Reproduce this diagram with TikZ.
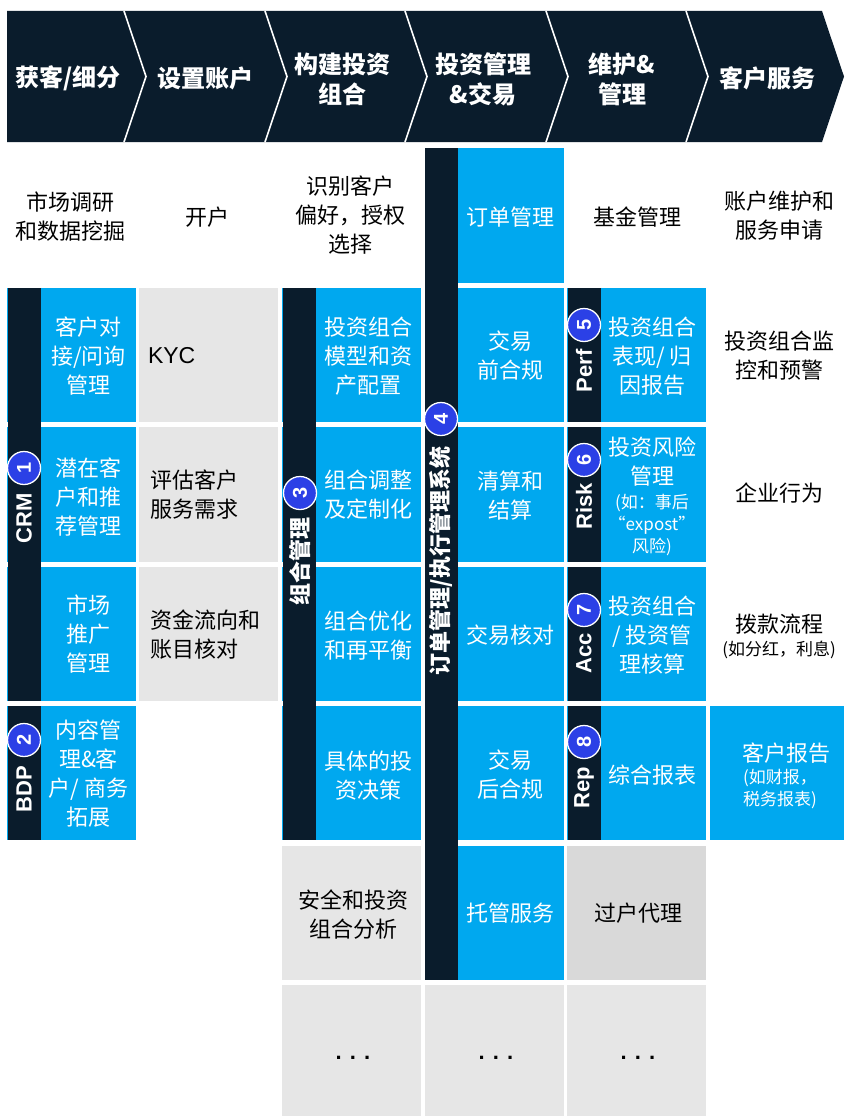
\documentclass[tikz,border=0pt]{standalone}
\usepackage{fontspec}
\setmainfont{Liberation Sans}
\newfontfamily\cjk{Noto Sans CJK SC}
\definecolor{navy}{HTML}{0A1C2C}
\definecolor{cblue}{HTML}{00A8EF}
\definecolor{cgrey}{HTML}{E6E6E6}
\definecolor{cgreyd}{HTML}{D9D9D9}
\definecolor{circblue}{HTML}{2B40E6}
\begin{document}
\begin{tikzpicture}[x=1pt,y=-1pt,
  every node/.style={inner sep=0pt, outer sep=0pt},
  head/.style={text=white, font=\cjk\bfseries\fontsize{24}{30}\selectfont, align=center},
  wtx/.style={text=white, font=\cjk\fontsize{22}{29}\selectfont, align=center},
  btx/.style={text=black, font=\cjk\fontsize{22}{29}\selectfont, align=center},
  btxl/.style={text=black, font=\cjk\fontsize{22}{29}\selectfont, align=left, anchor=west},
  wsm/.style={text=white, font=\cjk\fontsize{17}{22}\selectfont, align=center},
  bsm/.style={text=black, font=\cjk\fontsize{17}{22}\selectfont, align=center},
  vlab/.style={text=white, rotate=90, font=\bfseries\fontsize{22}{22}\selectfont},
  vcjk/.style={text=white, rotate=90, font=\cjk\bfseries\fontsize{22}{22}\selectfont},
  num/.style={circle, fill=circblue, draw=white, line width=1.3pt, minimum size=33pt,
    text=white, rotate=90, font=\bfseries\fontsize{20}{20}\selectfont},
  dots/.style={text=black, font=\bfseries\fontsize{22}{22}\selectfont}
]
\useasboundingbox (0,0) rectangle (844,1116);
\fill[white] (0,0) rectangle (844,1116);

% ---------- header chevrons ----------
\fill[navy] (7,11) -- (822,11) -- (844,76.5) -- (822,142) -- (7,142) -- cycle;
\foreach \b in {124,265,405,546,686}
  \draw[white, line width=1.6pt] (\b,11) -- (\b+22,76.5) -- (\b,142);
\node[head] (h1) at (68,78) {获客/细分};
\node[head] (h2) at (205,78) {设置账户};
\node[head] (h3) at (342,79) {构建投资\\组合};
\node[head] (h4) at (483,79) {投资管理\\\&交易};
\node[head] (h5) at (622,79) {维护\&\\管理};
\node[head] (h6) at (767,78) {客户服务};

% ---------- cells ----------
% column 1
\foreach \ya/\yb in {288/422,427/562,567/701,706/840}
  \fill[cblue] (7,\ya) rectangle (136,\yb);
\fill[navy] (8,288) rectangle (41,701);
\fill[navy] (8,706) rectangle (41,840);
% column 2
\foreach \ya/\yb in {288/422,427/562,567/701}
  \fill[cgrey] (139,\ya) rectangle (278,\yb);
% column 3
\foreach \ya/\yb in {288/422,427/562,567/701,706/840}
  \fill[cblue] (282,\ya) rectangle (421,\yb);
\fill[navy] (283,288) rectangle (316,840);
\foreach \ya/\yb in {846/980,985/1116}
  \fill[cgrey] (282,\ya) rectangle (421,\yb);
% column 4
\foreach \ya/\yb in {148/283,288/422,427/562,567/701,706/840,846/980}
  \fill[cblue] (426,\ya) rectangle (564,\yb);
\fill[navy] (425,148) rectangle (458,980);
\fill[cgrey] (425,985) rectangle (564,1116);
% column 5
\foreach \ya/\yb in {288/422,427/562,567/701,706/840}{
  \fill[cblue] (567,\ya) rectangle (706,\yb);
  \fill[navy] (568,\ya) rectangle (601,\yb);
}
\fill[cgreyd] (567,846) rectangle (706,980);
\fill[cgrey] (567,985) rectangle (706,1116);
% column 6
\fill[cblue] (710,706) rectangle (844,840);

% ---------- vertical labels ----------
\node[num] (n1) at (24,468) {1};
\node[vlab] (crm) at (24,518) {CRM};
\node[num] (n2) at (24,740) {2};
\node[vlab] (bdp) at (24,789) {BDP};
\node[num] (n3) at (300,493) {3};
\node[vcjk] (pm) at (300,561) {组合管理};
\node[num] (n4) at (441,419) {4};
\node[vcjk] (oms) at (441,561) {订单管理/执行管理系统};
\node[num] (n5) at (584,325) {5};
\node[vlab] (perf) at (584,371) {Perf};
\node[num] (n6) at (584,460) {6};
\node[vlab] (risk) at (584,506) {Risk};
\node[num] (n7) at (584,610) {7};
\node[vlab] (acc) at (584,653) {Acc};
\node[num] (n8) at (584,742) {8};
\node[vlab] (rep) at (584,788) {Rep};

% ---------- top row texts ----------
\node[btx] (t01) at (70,217) {市场调研\\和数据挖掘};
\node[btx] (t02) at (207,217) {开户};
\node[btx] (t03) at (350,215) {识别客户\\偏好，授权\\选择};
\node[wtx] (t04) at (510,217) {订单管理};
\node[btx] (t05) at (637,217) {基金管理};
\node[btx] (t06) at (779,216) {账户维护和\\服务申请};

% ---------- column 1 ----------
\node[wtx] (t11) at (88.5,356) {客户对\\接/问询\\管理};
\node[wtx] (t12) at (88.5,497) {潜在客\\户和推\\荐管理};
\node[wtx] (t13) at (88.5,634) {市场\\推广\\管理};
\node[wtx] (t14) at (88.5,774) {内容管\\理\&客\\户/ 商务\\拓展};

% ---------- column 2 ----------
\node[text=black, font=\fontsize{23}{23}\selectfont, anchor=west] (t21) at (148,356) {KYC};
\node[btxl] (t22) at (150,495) {评估客户\\服务需求};
\node[btxl] (t23) at (150,635) {资金流向和\\账目核对};

% ---------- column 3 ----------
\node[wtx] (t31) at (368.5,356) {投资组合\\模型和资\\产配置};
\node[wtx] (t32) at (368.5,495) {组合调整\\及定制化};
\node[wtx] (t33) at (368.5,636) {组合优化\\和再平衡};
\node[wtx] (t34) at (368.5,776) {具体的投\\资决策};
\node[btx] (t35) at (353,915) {安全和投资\\组合分析};
\node[dots] (t36) at (353,1058) {. . .};

% ---------- column 4 ----------
\node[wtx] (t41) at (510,356) {交易\\前合规};
\node[wtx] (t42) at (510,496) {清算和\\结算};
\node[wtx] (t43) at (510,635) {交易核对};
\node[wtx] (t44) at (510,775) {交易\\后合规};
\node[wtx] (t45) at (510,913) {托管服务};
\node[dots] (t46) at (496,1058) {. . .};

% ---------- column 5 ----------
\node[wtx] (t51) at (652,356) {投资组合\\表现/ 归\\因报告};
\node[wtx] (t52a) at (652,462) {投资风险\\管理};
\node[wsm] (t52b) at (652,525) {(如：事后\\“expost”\\风险)};
\node[wtx] (t53) at (652,635) {投资组合\\/ 投资管\\理核算};
\node[wtx] (t54) at (652,775) {综合报表};
\node[btx] (t55) at (638,913) {过户代理};
\node[dots] (t56) at (638,1058) {. . .};

% ---------- column 6 ----------
\node[btx] (t61) at (779,356) {投资组合监\\控和预警};
\node[btx] (t62) at (779,493) {企业行为};
\node[btx] (t63a) at (779,624) {拨款流程};
\node[bsm] (t63b) at (779,650) {(如分红，利息)};
\node[wtx] (t64a) at (786,753) {客户报告};
\node[wsm] (t64b) at (780,789) {(如财报，\\税务报表)};
\end{tikzpicture}
\end{document}
